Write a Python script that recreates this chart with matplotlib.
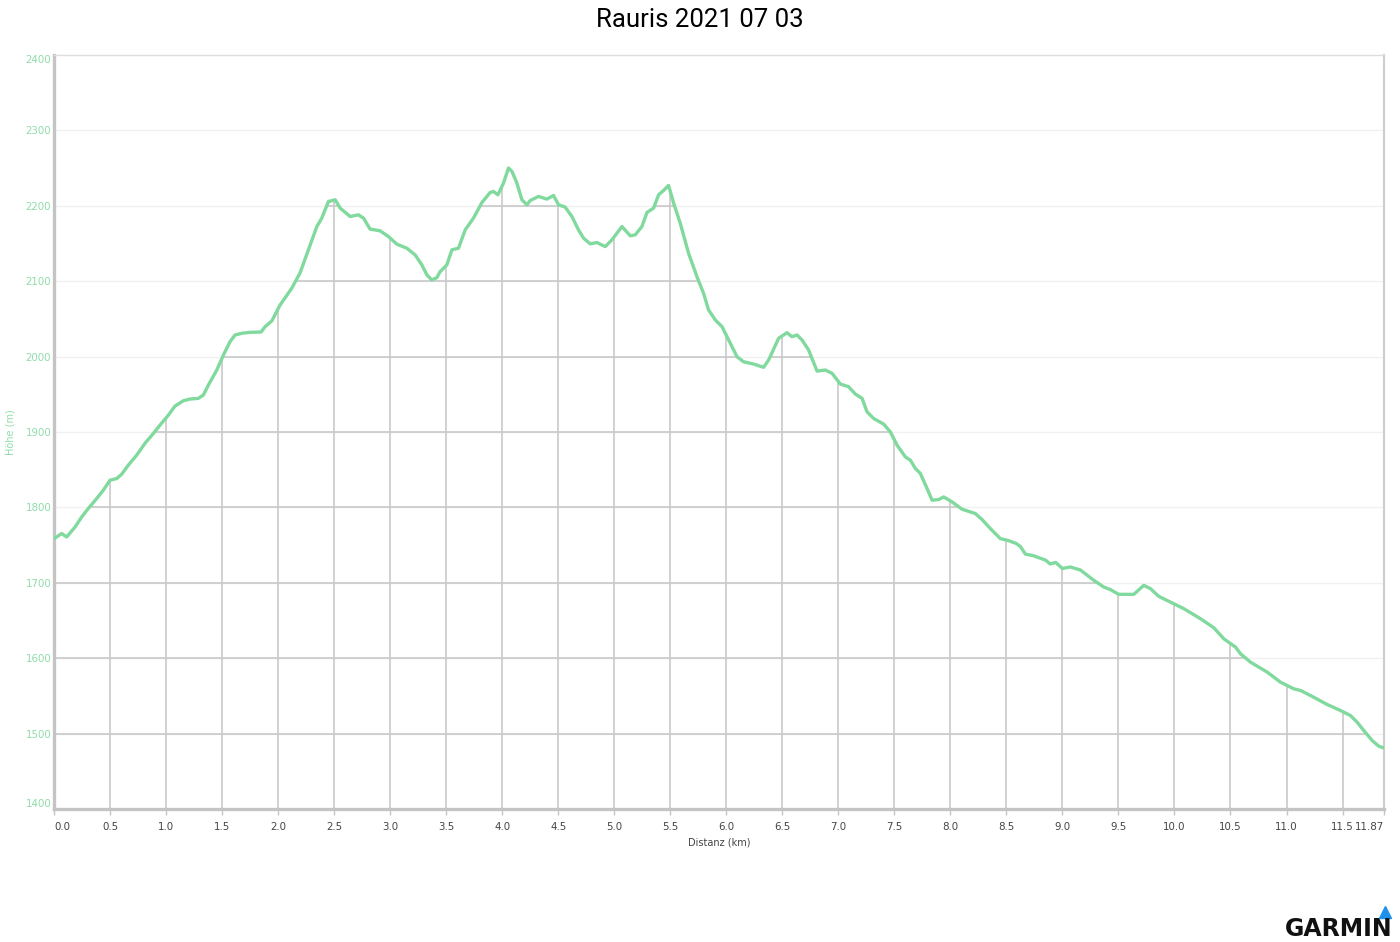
import numpy as np
import matplotlib
matplotlib.use("Agg")
import matplotlib.pyplot as plt
from matplotlib.patches import Polygon

# ---------------------------------------------------------
# Elevation profile (distance in km, height in m)
# ---------------------------------------------------------
dist_km = [
    0.000, 0.069, 0.113, 0.188, 0.247, 0.306, 0.381, 0.440, 0.500, 0.560,
    0.604, 0.663, 0.738, 0.813, 0.887, 0.946, 1.021, 1.080, 1.154, 1.214,
    1.288, 1.333, 1.378, 1.453, 1.512, 1.571, 1.616, 1.676, 1.750, 1.848,
    1.884, 1.944, 2.018, 2.122, 2.196, 2.271, 2.346, 2.390, 2.449, 2.509,
    2.554, 2.643, 2.717, 2.762, 2.821, 2.911, 2.985, 3.060, 3.149, 3.223,
    3.283, 3.328, 3.372, 3.417, 3.446, 3.506, 3.551, 3.610, 3.670, 3.744,
    3.819, 3.893, 3.922, 3.962, 4.012, 4.056, 4.087, 4.131, 4.176, 4.221,
    4.250, 4.324, 4.399, 4.458, 4.503, 4.562, 4.622, 4.681, 4.726, 4.786,
    4.845, 4.920, 4.979, 5.069, 5.143, 5.188, 5.247, 5.292, 5.351, 5.396,
    5.440, 5.485, 5.530, 5.589, 5.663, 5.738, 5.797, 5.842, 5.902, 5.962,
    6.021, 6.096, 6.154, 6.244, 6.333, 6.378, 6.467, 6.542, 6.586, 6.631,
    6.676, 6.735, 6.810, 6.884, 6.944, 7.018, 7.092, 7.152, 7.212, 7.256,
    7.315, 7.404, 7.464, 7.524, 7.598, 7.643, 7.688, 7.732, 7.792, 7.837,
    7.896, 7.940, 8.015, 8.104, 8.223, 8.283, 8.357, 8.446, 8.518, 8.590,
    8.625, 8.670, 8.740, 8.850, 8.890, 8.940, 9.000, 9.070, 9.160, 9.280,
    9.369, 9.429, 9.503, 9.637, 9.726, 9.786, 9.860, 9.964, 10.083, 10.232,
    10.351, 10.440, 10.545, 10.589, 10.679, 10.828, 10.946, 11.065, 11.125, 11.214,
    11.363, 11.482, 11.571, 11.631, 11.690, 11.765, 11.824, 11.870,
]
height_m = [
    1758.6, 1765.3, 1760.8, 1774.0, 1787.3, 1798.5, 1811.8, 1822.8, 1836.1, 1838.3,
    1844.0, 1856.0, 1869.3, 1885.2, 1898.1, 1909.1, 1922.4, 1934.4, 1941.4, 1943.7,
    1944.6, 1949.0, 1962.3, 1982.2, 2002.1, 2019.8, 2028.7, 2030.9, 2032.2, 2032.6,
    2039.7, 2047.3, 2068.5, 2090.7, 2111.0, 2141.6, 2172.5, 2183.7, 2205.7, 2208.0,
    2196.9, 2185.8, 2188.0, 2183.7, 2169.1, 2166.8, 2159.2, 2149.1, 2143.8, 2134.9,
    2121.6, 2108.4, 2101.7, 2104.8, 2112.7, 2121.6, 2141.6, 2143.8, 2168.1, 2183.7,
    2204.4, 2217.7, 2219.0, 2214.6, 2230.2, 2250.1, 2245.6, 2230.2, 2208.0, 2201.3,
    2207.0, 2212.4, 2208.9, 2213.7, 2201.3, 2198.3, 2185.8, 2168.1, 2157.1, 2149.5,
    2151.3, 2145.9, 2154.8, 2172.5, 2160.2, 2161.5, 2172.5, 2191.1, 2196.9, 2214.6,
    2220.3, 2227.0, 2203.6, 2177.0, 2137.2, 2106.1, 2084.0, 2061.9, 2048.6, 2039.7,
    2022.0, 1999.8, 1993.2, 1990.1, 1985.8, 1995.5, 2024.3, 2031.7, 2026.4, 2028.7,
    2022.0, 2008.7, 1980.8, 1982.2, 1977.8, 1963.6, 1960.0, 1950.3, 1944.6, 1926.8,
    1918.0, 1910.5, 1900.2, 1882.6, 1867.0, 1862.6, 1851.6, 1845.0, 1825.0, 1809.5,
    1810.4, 1813.9, 1807.3, 1797.6, 1791.8, 1783.9, 1771.9, 1758.6, 1756.0, 1752.0,
    1748.0, 1738.0, 1736.0, 1730.0, 1725.0, 1727.0, 1719.0, 1721.0, 1717.0, 1703.3,
    1694.4, 1690.9, 1684.7, 1684.7, 1696.6, 1692.2, 1682.0, 1674.4, 1665.7, 1652.4,
    1640.4, 1625.8, 1614.7, 1605.9, 1594.7, 1581.5, 1568.2, 1559.4, 1557.2, 1550.5,
    1538.6, 1530.6, 1523.9, 1515.0, 1504.0, 1490.7, 1483.2, 1481.0,
]

x_ticks = [i * 0.5 for i in range(24)] + [11.87]
x_tick_labels = [f"{t:.1f}" for t in x_ticks[:-1]] + ["11.87"]
y_ticks = [1400, 1500, 1600, 1700, 1800, 1900, 2000, 2100, 2200, 2300, 2400]

title = "Rauris 2021 07 03"
line_color = "#80d99d"
label_green = "#8fdca9"
grid_dark = "#c9c9c9"
grid_light = "#f1f1f1"

# ---------------------------------------------------------
# Figure
# ---------------------------------------------------------
fig = plt.figure(figsize=(14, 9.42), dpi=100)
ax = fig.add_axes([54 / 1400, 1 - 809 / 942, 1330 / 1400, 754 / 942])
ax.set_xlim(0, 11.87)
ax.set_ylim(1400, 2400)

# light horizontal grid everywhere
ax.hlines(y_ticks[1:-1], 0, 11.87, colors=grid_light, linewidth=1.0, zorder=1)

# darker grid only underneath the profile
verts = [(dist_km[0], 1400)] + list(zip(dist_km, height_m)) + [(dist_km[-1], 1400)]
area = Polygon(verts, closed=True, facecolor="none", edgecolor="none")
ax.add_patch(area)
hl = ax.hlines(y_ticks[1:-1], 0, 11.87, colors=grid_dark, linewidth=1.2, zorder=2)
vl = ax.vlines(x_ticks[1:-1], 1400, 2400, colors=grid_dark, linewidth=1.2, zorder=2)
hl.set_clip_path(area)
vl.set_clip_path(area)

ax.plot(dist_km, height_m, color=line_color, linewidth=2.4, zorder=3,
        solid_joinstyle="round", solid_capstyle="round")

# spines
for side in ["left", "bottom"]:
    ax.spines[side].set_color("#c4c4c4")
    ax.spines[side].set_linewidth(2.4)
ax.spines["top"].set_color("#dddddd")
ax.spines["top"].set_linewidth(1.0)
ax.spines["right"].set_color("#cfcfcf")
ax.spines["right"].set_linewidth(1.6)

# ticks
ax.set_xticks(x_ticks)
ax.set_xticklabels(x_tick_labels)
ax.set_yticks(y_ticks)
ax.tick_params(axis="x", colors="#c4c4c4", labelcolor="#444444", labelsize=7.4,
               length=4, width=1, pad=5)
ax.tick_params(axis="y", length=0, labelcolor=label_green, labelsize=7.4, pad=2)
xl = ax.get_xticklabels()
xl[0].set_horizontalalignment("left")
xl[-1].set_horizontalalignment("right")
yl = ax.get_yticklabels()
yl[0].set_verticalalignment("bottom")
yl[-1].set_verticalalignment("top")

ax.set_xlabel("Distanz (km)", fontsize=7, color="#444444", labelpad=4)
ax.set_ylabel("Höhe (m)", fontsize=7, color=label_green, labelpad=7)

fig.suptitle(title, fontsize=18.5, family="Roboto", y=0.991)

# Garmin logo
fig.text(1392 / 1400, 1 / 942, "GARMIN", ha="right", va="bottom", fontsize=17,
         family="DejaVu Sans", fontweight="bold", color="#111111")
fig.lines.append(plt.Line2D([1385 / 1400], [1 - 912 / 942], transform=fig.transFigure,
                            marker="^", markersize=9, color="#1e90ee", linestyle="none"))

fig.savefig("out.png", dpi=100, facecolor="white")
